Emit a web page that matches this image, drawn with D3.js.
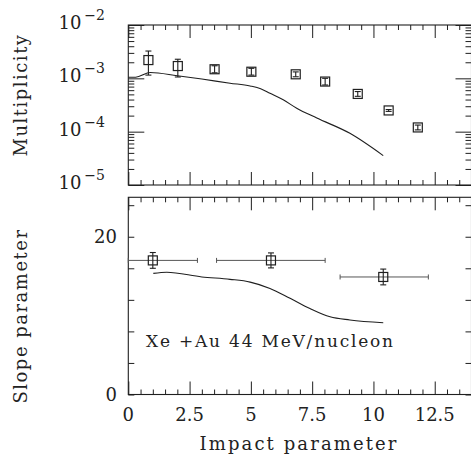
<!DOCTYPE html>
<html>
<head>
<meta charset="utf-8">
<script src="https://cdn.jsdelivr.net/npm/d3@7"></script>
<style>
  html, body { margin: 0; padding: 0; background: #fff; }
  svg { display: block; }
  text { font-family: "DejaVu Serif", "Liberation Serif", serif; fill: #222; }
</style>
</head>
<body>
<svg id="chart" width="471" height="456"></svg>
<script>
// Multiplicity vs impact parameter (measured points)
const multX  = [0.82, 2.02, 3.52, 5.02, 6.83, 8.03, 9.36, 10.62, 11.81];
const multY  = [2.2e-3, 1.7e-3, 1.48e-3, 1.33e-3, 1.19e-3, 8.7e-4, 5.1e-4, 2.5e-4, 1.2e-4];
const multLo = [1.15e-3, 1.06e-3, 1.27e-3, 1.15e-3, 1.07e-3, 7.5e-4, 4.6e-4, 2.4e-4, 1.08e-4];
const multHi = [3.25e-3, 2.28e-3, 1.72e-3, 1.54e-3, 1.32e-3, 1.0e-3, 5.65e-4, 2.6e-4, 1.33e-4];

// Multiplicity model curve
const multCurveX = [0, 0.3, 0.9, 2.0, 3.0, 4.15, 4.97, 5.4, 5.78, 6.32, 6.87, 7.69, 9.04, 10.4];
const multCurveY = [1.05e-3, 1.05e-3, 1.29e-3, 1.12e-3, 9.7e-4, 8.1e-4, 7.2e-4, 6.4e-4, 5.25e-4, 3.95e-4, 2.75e-4, 1.8e-4, 9.3e-5, 3.55e-5];

// Slope parameter (measured points with impact-parameter bins)
const slopeX   = [1.0, 5.82, 10.4];
const slopeY   = [17.0, 17.0, 14.9];
const slopeErr = [1.0, 0.95, 1.0];
const slopeXLo = [0, 3.6, 8.64];
const slopeXHi = [2.82, 8.03, 12.24];

// Slope parameter model curve
const slopeCurveX = [1.02, 1.57, 3.0, 4.15, 4.97, 5.78, 6.6, 7.41, 8.23, 9.04, 10.4];
const slopeCurveY = [15.35, 15.5, 14.9, 14.6, 14.25, 13.45, 12.2, 10.9, 9.85, 9.45, 9.1];

// Tick definitions
const xTickLabels   = ["0", "2.5", "5", "7.5", "10", "12.5"];
const xMajorTicks   = [0, 2.5, 5, 7.5, 10, 12.5];
const logExponents  = [-2, -3, -4, -5];
const slopeTicks    = [0, 4, 8, 12, 16, 20, 24];
const slopeLabels   = [0, 20];

const svg = d3.select("#chart");
const ink = "#1f1f1f";

const x = d3.scaleLinear().domain([0, 14]).range([128.3, 471.5]);
const yTop = d3.scaleLog().domain([1e-5, 1e-2]).range([185, 25]);
const yBot = d3.scaleLinear().domain([0, 25]).range([394.5, 197.3]);

const xMinor = d3.range(0, 14.01, 0.5).filter(v => !xMajorTicks.includes(v));
const logMinor = [];
for (let e = -5; e < -2; e++) for (let m = 2; m <= 9; m++) logMinor.push(m * Math.pow(10, e));

function drawFrame(yScale) {
  const [y0, y1] = yScale.range();
  svg.append("rect")
    .attr("x", x.range()[0]).attr("y", y1)
    .attr("width", x.range()[1] - x.range()[0]).attr("height", y0 - y1)
    .attr("fill", "none").attr("stroke", ink).attr("stroke-width", 1.1);
}

function xTicks(yScale) {
  const [y0, y1] = yScale.range();
  // bottom edge, pointing inward
  svg.append("g").attr("transform", `translate(0,${y0})`)
    .call(d3.axisBottom(x).tickValues(xMajorTicks).tickSize(-13).tickFormat(""))
    .call(g => g.select(".domain").remove());
  svg.append("g").attr("transform", `translate(0,${y0})`)
    .call(d3.axisBottom(x).tickValues(xMinor).tickSize(-5).tickFormat(""))
    .call(g => g.select(".domain").remove());
  // top edge
  svg.append("g").attr("transform", `translate(0,${y1})`)
    .call(d3.axisTop(x).tickValues(xMajorTicks).tickSize(-13).tickFormat(""))
    .call(g => g.select(".domain").remove());
  svg.append("g").attr("transform", `translate(0,${y1})`)
    .call(d3.axisTop(x).tickValues(xMinor).tickSize(-5).tickFormat(""))
    .call(g => g.select(".domain").remove());
}

// ---- Top panel: multiplicity (log) ----
drawFrame(yTop);
xTicks(yTop);
const decades = logExponents.map(e => Math.pow(10, e));
[["L", x.range()[0]], ["R", x.range()[1]]].forEach(([side, px]) => {
  const axisFn = side === "L" ? d3.axisLeft : d3.axisRight;
  svg.append("g").attr("transform", `translate(${px},0)`)
    .call(axisFn(yTop).tickValues(decades).tickSize(-16).tickFormat(""))
    .call(g => g.select(".domain").remove());
  svg.append("g").attr("transform", `translate(${px},0)`)
    .call(axisFn(yTop).tickValues(logMinor).tickSize(-6).tickFormat(""))
    .call(g => g.select(".domain").remove());
});
svg.selectAll(".tick line").attr("stroke", ink);

// decade labels 10^n
logExponents.forEach(e => {
  const t = svg.append("text")
    .attr("x", 105).attr("y", yTop(Math.pow(10, e)) + 4)
    .attr("text-anchor", "end")
    .style("font-size", "18px");
  t.append("tspan").text("10");
  t.append("tspan").attr("dy", -9).attr("dx", 3).style("font-size", "14px").text("\u2212" + Math.abs(e));
});

// model curve
svg.append("path")
  .datum(multCurveX.map((v, i) => [v, multCurveY[i]]))
  .attr("fill", "none").attr("stroke", ink).attr("stroke-width", 1.1)
  .attr("d", d3.line().x(d => x(d[0])).y(d => yTop(d[1])).curve(d3.curveMonotoneX));

// measured points
const multPts = svg.append("g");
multX.forEach((v, i) => {
  const cx = x(v);
  const yl = yTop(multLo[i]), yh = yTop(multHi[i]);
  multPts.append("line").attr("x1", cx).attr("x2", cx).attr("y1", yl).attr("y2", yh)
    .attr("stroke", ink).attr("stroke-width", 1.1);
  [yl, yh].forEach(yy => multPts.append("line")
    .attr("x1", cx - 3).attr("x2", cx + 3).attr("y1", yy).attr("y2", yy)
    .attr("stroke", ink).attr("stroke-width", 1.1));
  multPts.append("rect")
    .attr("x", cx - 4.5).attr("y", yTop(multY[i]) - 4.5).attr("width", 9).attr("height", 9)
    .attr("fill", "none").attr("stroke", ink).attr("stroke-width", 1.2);
});

// ---- Bottom panel: slope parameter ----
drawFrame(yBot);
xTicks(yBot);
[["L", x.range()[0]], ["R", x.range()[1]]].forEach(([side, px]) => {
  const axisFn = side === "L" ? d3.axisLeft : d3.axisRight;
  svg.append("g").attr("transform", `translate(${px},0)`)
    .call(axisFn(yBot).tickValues(slopeTicks).tickSize(-6).tickFormat(""))
    .call(g => g.select(".domain").remove());
});
svg.selectAll(".tick line").attr("stroke", ink);

slopeLabels.forEach(v => {
  svg.append("text")
    .attr("x", 117).attr("y", yBot(v) + 6)
    .attr("text-anchor", "end")
    .style("font-size", "18px")
    .text(v);
});

// x tick labels
xMajorTicks.forEach((v, i) => {
  svg.append("text")
    .attr("x", x(v)).attr("y", 421)
    .attr("text-anchor", "middle")
    .style("font-size", "18px")
    .text(xTickLabels[i]);
});

// model curve
svg.append("path")
  .datum(slopeCurveX.map((v, i) => [v, slopeCurveY[i]]))
  .attr("fill", "none").attr("stroke", ink).attr("stroke-width", 1.1)
  .attr("d", d3.line().x(d => x(d[0])).y(d => yBot(d[1])).curve(d3.curveMonotoneX));

// measured points with bins
const slopePts = svg.append("g");
slopeX.forEach((v, i) => {
  const cx = x(v), cy = yBot(slopeY[i]);
  const xl = x(slopeXLo[i]), xh = x(slopeXHi[i]);
  slopePts.append("line").attr("x1", xl).attr("x2", xh).attr("y1", cy).attr("y2", cy)
    .attr("stroke", "#555").attr("stroke-width", 1);
  [xl, xh].forEach(xx => slopePts.append("line")
    .attr("x1", xx).attr("x2", xx).attr("y1", cy - 2.5).attr("y2", cy + 2.5)
    .attr("stroke", "#555").attr("stroke-width", 1));
  const yl = yBot(slopeY[i] - slopeErr[i]), yh = yBot(slopeY[i] + slopeErr[i]);
  slopePts.append("line").attr("x1", cx).attr("x2", cx).attr("y1", yl).attr("y2", yh)
    .attr("stroke", ink).attr("stroke-width", 1.1);
  [yl, yh].forEach(yy => slopePts.append("line")
    .attr("x1", cx - 3).attr("x2", cx + 3).attr("y1", yy).attr("y2", yy)
    .attr("stroke", ink).attr("stroke-width", 1.1));
  slopePts.append("rect")
    .attr("x", cx - 4.5).attr("y", cy - 4.5).attr("width", 9).attr("height", 9)
    .attr("fill", "none").attr("stroke", ink).attr("stroke-width", 1.2);
});

// annotation
svg.append("text")
  .attr("x", 146).attr("y", 347)
  .style("font-size", "17px").style("letter-spacing", "1.8px")
  .text("Xe +Au 44 MeV/nucleon");

// axis titles
svg.append("text")
  .attr("transform", "translate(27,95) rotate(-90)")
  .attr("text-anchor", "middle")
  .style("font-size", "18px").style("letter-spacing", "1.5px")
  .text("Multiplicity");
svg.append("text")
  .attr("transform", "translate(27,316) rotate(-90)")
  .attr("text-anchor", "middle")
  .style("font-size", "18px").style("letter-spacing", "1.5px")
  .text("Slope parameter");
svg.append("text")
  .attr("x", 299).attr("y", 450)
  .attr("text-anchor", "middle")
  .style("font-size", "18px").style("letter-spacing", "2.1px")
  .text("Impact parameter");
</script>
</body>
</html>
